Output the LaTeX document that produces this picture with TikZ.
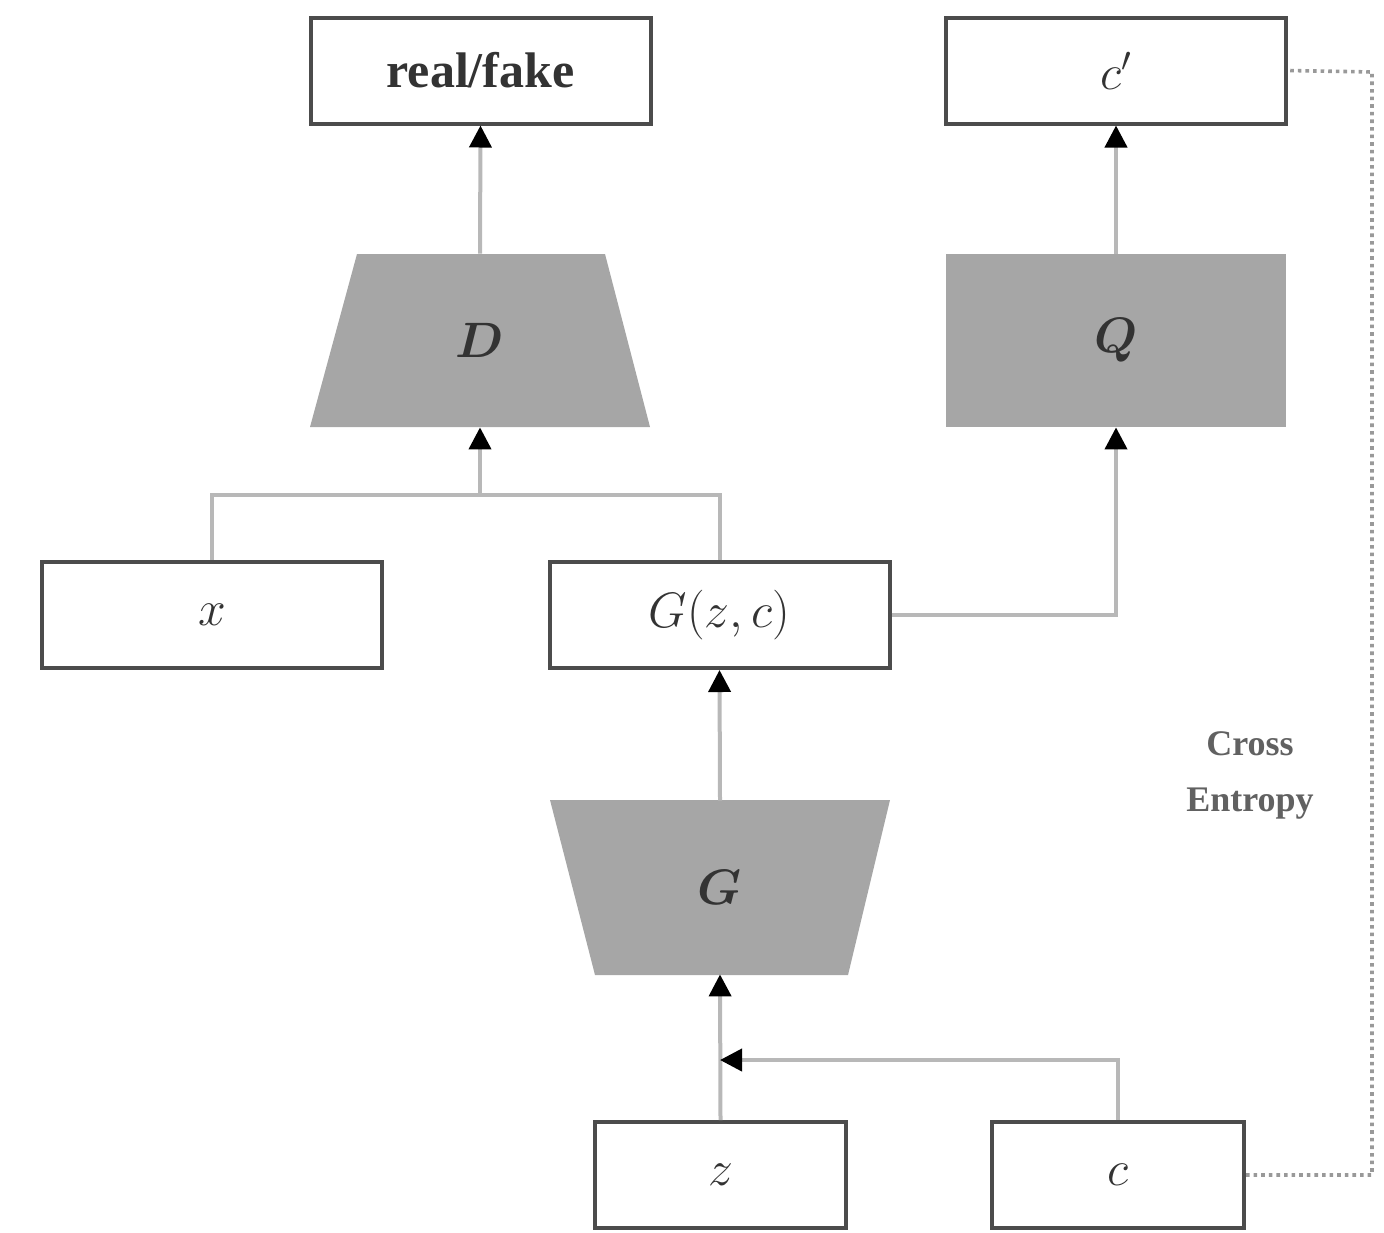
\documentclass[tikz,border=0pt]{standalone}
\usepackage{fontspec}
\setmainfont{Liberation Serif}
\usetikzlibrary{arrows.meta}
\begin{document}
\begin{tikzpicture}[x=0.5pt,y=-0.5pt,
  box/.style={draw=black!70,line width=2pt,fill=white,minimum width=170pt,minimum height=53pt,inner sep=0pt,text=black!80,font=\fontsize{25}{30}\selectfont},
  net/.style={inner sep=0pt,minimum width=170pt,minimum height=86.5pt,text=black!80,font=\fontsize{27}{30}\selectfont\boldmath},
  netfill/.style={fill=black!35},
  link/.style={draw=black!28,line width=2pt},
  flow/.style={link,-{Triangle[length=11pt,width=11pt,color=black]}},
  ce/.style={draw=black!40,line width=1.8pt,dotted},
]
\useasboundingbox (0,0) rectangle (1384,1232);

% discriminator and auxiliary network bodies
\fill[netfill] (310,427) -- (650,427) -- (605,254) -- (357,254) -- cycle;
\fill[netfill] (946,254) rectangle (1286,427);
\fill[netfill] (550,800) -- (890,800) -- (848,975) -- (595,975) -- cycle;

\node[net] (D) at (480,340.5) {$D$};
\node[net] (Q) at (1116,340.5) {$Q$};
\node[net,minimum width=127pt] (G) at (720,887.5) {$G$};

% data boxes
\node[box] (out) at (480.5,70.5) {\textbf{real/fake}};
\node[box] (cp) at (1116,70.5) {$c'$};
\node[box] (x) at (212,615) {$x$};
\node[box] (gzc) at (719.5,615) {$G(z,c)$};
\node[box,minimum width=125.5pt] (z) at (720.5,1175) {$z$};
\node[box,minimum width=126pt] (c) at (1118,1175) {$c$};

\coordinate (jD) at (480,495);
\coordinate (jG) at (720,1060);

% connectors
\draw[link] (x.north) |- (jD) -| (gzc.north);
\draw[flow] (jD) -- (D.south);
\draw[flow] (D.north) -- (out.south);
\draw[flow] (gzc.east) -| (Q.south);
\draw[flow] (Q.north) -- (cp.south);
\draw[flow] (G.north) -- (gzc.south);
\draw[flow] (z.north) -- (G.south);
\draw[flow] (c.north) |- (jG);

% cross entropy between c and c'
\coordinate (ceB) at (1372,1175);
\coordinate (ceT) at (1372,72);
\draw[ce] (c.east) -- (ceB) -- (ceT) -- (cp.east);
\node[text=black!62,align=center,font=\fontsize{18}{28}\selectfont\bfseries] (celabel) at (1250,775) {Cross\\Entropy};
\end{tikzpicture}
\end{document}
